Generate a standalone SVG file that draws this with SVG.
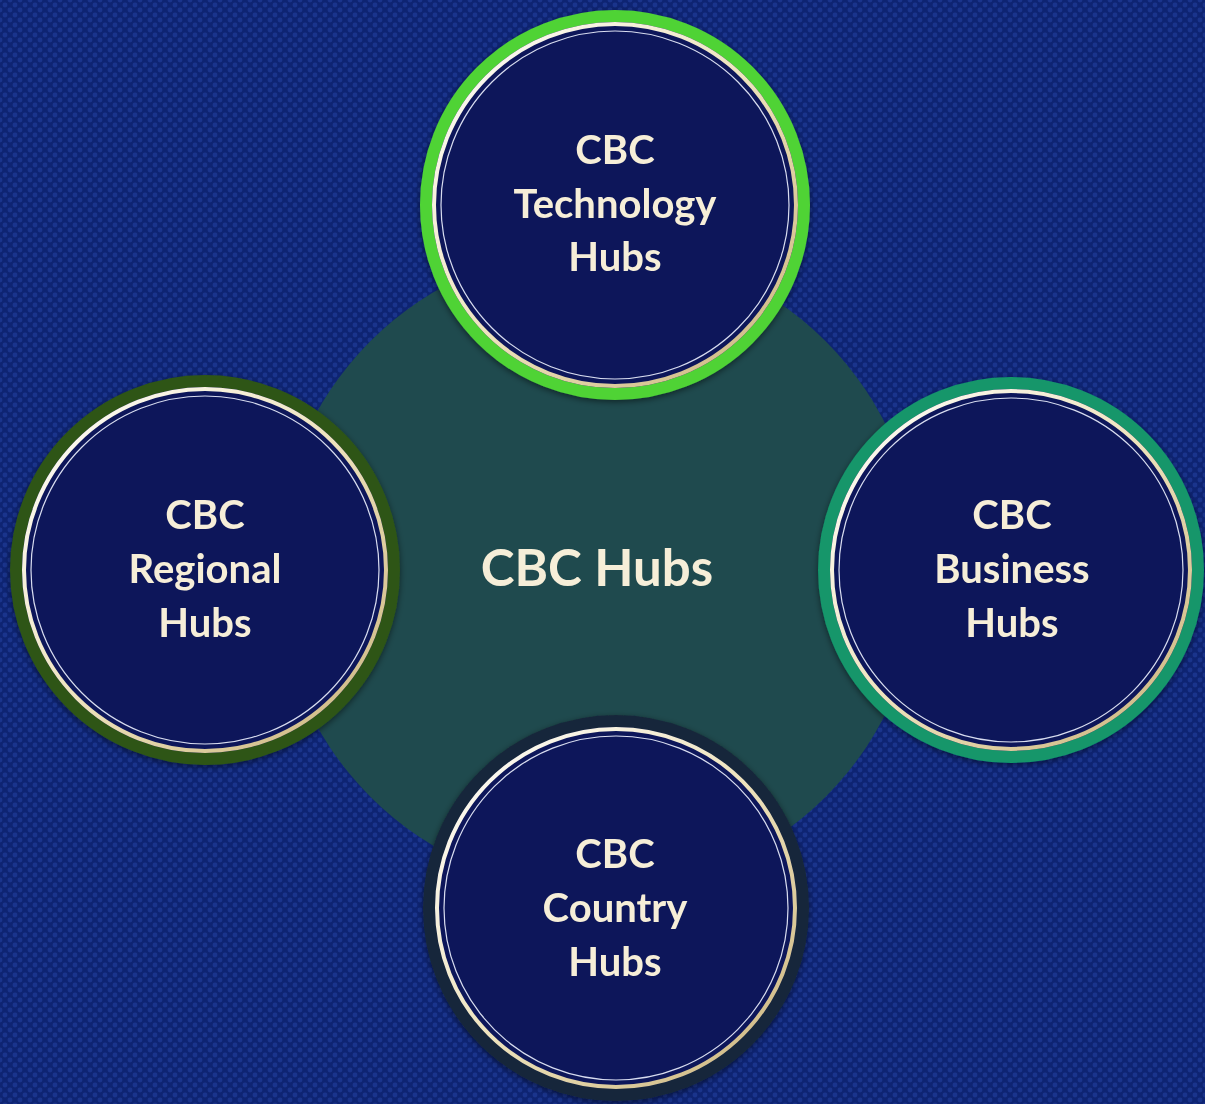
<svg xmlns="http://www.w3.org/2000/svg" width="1205" height="1104" viewBox="0 0 1205 1104">
<defs>
<pattern id="dots" width="10" height="10" patternUnits="userSpaceOnUse">
<rect width="10" height="10" fill="#0e2473"/>
<circle cx="0" cy="0" r="2.4" fill="#1a348c"/>
<circle cx="10" cy="0" r="2.4" fill="#1a348c"/>
<circle cx="0" cy="10" r="2.4" fill="#1a348c"/>
<circle cx="10" cy="10" r="2.4" fill="#1a348c"/>
<circle cx="5" cy="5" r="2.4" fill="#1a348c"/>
</pattern>
<linearGradient id="gold" x1="0" y1="0" x2="1" y2="1">
<stop offset="0" stop-color="#ffffff"/>
<stop offset="0.5" stop-color="#eee3bd"/>
<stop offset="1" stop-color="#c9b27a"/>
</linearGradient>
<filter id="sh" x="-20%" y="-20%" width="140%" height="140%">
<feDropShadow dx="0" dy="2" stdDeviation="3" flood-color="#000" flood-opacity="0.5"/>
</filter>
</defs>
<style>
.fill{fill:#0e185a}
.goldring{fill:none;stroke:url(#gold);stroke-width:4}
.inner{fill:none;stroke:#d8dcf0;stroke-width:1.2}
.lbl{font-family:Lato,"Noto Sans",sans-serif;font-weight:bold;font-size:40px;fill:#f6eed8;text-anchor:middle}
.big{font-size:51px}
</style>
<rect width="1205" height="1104" fill="url(#dots)"/>
<g id="center">
<circle cx="598" cy="569" r="322" fill="#1f4a4e"/>
<text class="lbl big" x="597" y="586">CBC Hubs</text>
</g>
<g id="connectors"></g>
<g id="tech" filter="url(#sh)">
<circle cx="615" cy="205" r="189" class="fill" stroke="#4fd335" stroke-width="12"/>
<circle cx="615" cy="205" r="181" class="goldring"/>
<circle cx="615" cy="205" r="174" class="inner"/>
<text class="lbl" x="615" y="164">CBC</text>
<text class="lbl" x="615" y="218">Technology</text>
<text class="lbl" x="615" y="271">Hubs</text>
</g>
<g id="regional" filter="url(#sh)">
<circle cx="205" cy="570" r="189" class="fill" stroke="#2d5417" stroke-width="12"/>
<circle cx="205" cy="570" r="181" class="goldring"/>
<circle cx="205" cy="570" r="174" class="inner"/>
<text class="lbl" x="205" y="529">CBC</text>
<text class="lbl" x="205" y="583">Regional</text>
<text class="lbl" x="205" y="637">Hubs</text>
</g>
<g id="business" filter="url(#sh)">
<circle cx="1011" cy="570" r="187" class="fill" stroke="#13966b" stroke-width="12"/>
<circle cx="1011" cy="570" r="179" class="goldring"/>
<circle cx="1011" cy="570" r="172" class="inner"/>
<text class="lbl" x="1012" y="529">CBC</text>
<text class="lbl" x="1012" y="583">Business</text>
<text class="lbl" x="1012" y="637">Hubs</text>
</g>
<g id="country" filter="url(#sh)">
<circle cx="616" cy="908" r="187" class="fill" stroke="#17283a" stroke-width="12"/>
<circle cx="616" cy="908" r="179" class="goldring"/>
<circle cx="616" cy="908" r="172" class="inner"/>
<text class="lbl" x="615" y="868">CBC</text>
<text class="lbl" x="615" y="922">Country</text>
<text class="lbl" x="615" y="976">Hubs</text>
</g>
</svg>
